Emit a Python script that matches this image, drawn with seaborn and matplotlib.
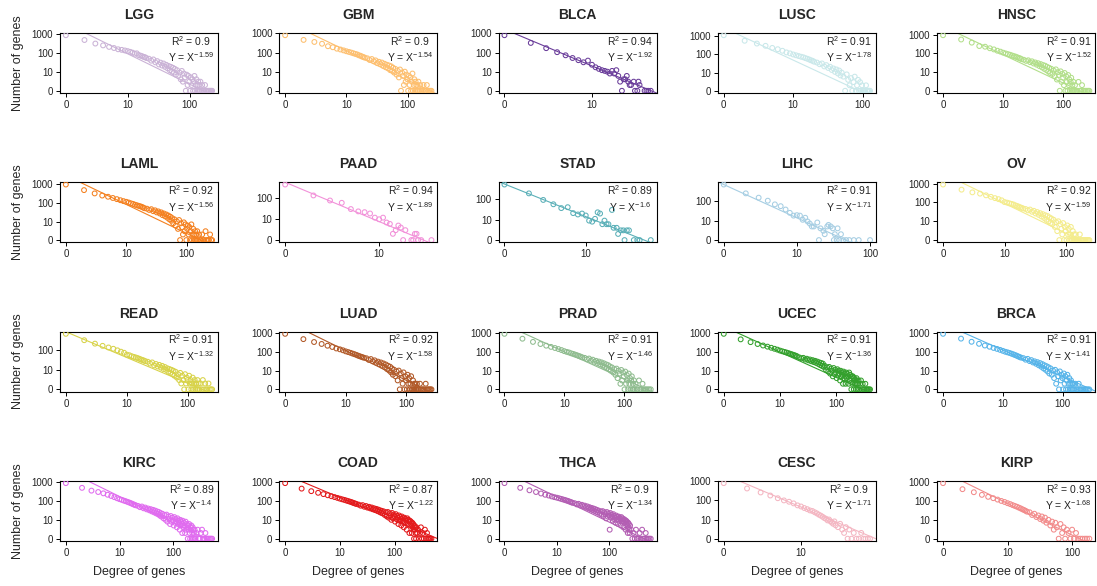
import numpy as np
import matplotlib
matplotlib.use("Agg")
import matplotlib.pyplot as plt
import seaborn as sns
from matplotlib.ticker import FixedLocator, FixedFormatter, NullLocator

# ---------------- data ----------------
names = ["LGG", "GBM", "BLCA", "LUSC", "HNSC",
         "LAML", "PAAD", "STAD", "LIHC", "OV",
         "READ", "LUAD", "PRAD", "UCEC", "BRCA",
         "KIRC", "COAD", "THCA", "CESC", "KIRP"]
colors = ["#CAB2D6", "#FDBF6F", "#6A3D9A", "#C9E8EA", "#B2DF8A",
          "#F4801F", "#F291D9", "#5BB0B8", "#A6CEE3", "#F4EC8C",
          "#D8D34A", "#B15928", "#8FBC8F", "#33A02C", "#56B4E9",
          "#E06BEF", "#E31A1C", "#B35EB3", "#F4B6C2", "#F28B8B"]
r2_values = ["0.9", "0.9", "0.94", "0.91", "0.91",
             "0.92", "0.94", "0.89", "0.91", "0.92",
             "0.91", "0.92", "0.91", "0.91", "0.91",
             "0.89", "0.87", "0.9", "0.9", "0.93"]
exponents = [1.59, 1.54, 1.92, 1.78, 1.52,
             1.56, 1.89, 1.6, 1.71, 1.59,
             1.32, 1.58, 1.46, 1.36, 1.41,
             1.4, 1.22, 1.34, 1.71, 1.68]
log_intercepts = [3.53, 3.64, 3.22, 3.47, 3.45,
                  3.48, 2.78, 2.75, 2.85, 3.54,
                  2.95, 3.64, 3.48, 3.36, 3.5,
                  3.64, 3.4, 3.56, 3.36, 3.55]

# shared runs of integer degrees (typed out)
DEG_1_20 = [1,2,3,4,5,6,7,8,9,10,11,12,13,14,15,16,17,18,19,20]
DEG_22_60 = [22,24,26,28,30,32,34,36,38,40,42,44,46,48,50,52,54,56,58,60]
DEG_63_150 = [63,66,69,72,75,78,81,84,87,90,93,96,99,102,105,108,111,114,117,120,
              123,126,129,132,135,138,141,144,147,150]
DEG_154_250 = [154,158,162,166,170,174,178,182,186,190,194,198,202,206,210,214,218,
               222,226,230,234,238,242,246,250]

LGG_deg = DEG_1_20 + DEG_22_60 + DEG_63_150 + [155,160,166,172,178,185,192,200,208,216,224,232]
LGG_cnt = ([820,460,300,240,200,175,150,140,130,120,110,100,88,92,75,70,66,60,58,52]
           + [48,38,44,31,36,24,30,21,27,18,23,15,20,12,18,10,16,9,14,7]
           + [12,6,9,4,11,3,8,5,1,7,2,6,3,1,5,2,4,1,3,6,1,2,4,1,2,3,1,2,1,3]
           + [1,2,1,1,2,1,1,1,1,1,1,1])

GBM_deg = DEG_1_20 + DEG_22_60 + DEG_63_150 + [155,161,168,175,182,190,198,206,215,225,235,245]
GBM_cnt = ([810,460,360,290,215,190,160,145,130,117,108,100,92,85,80,72,68,62,58,54]
           + [50,41,46,35,39,28,33,25,30,20,26,17,23,15,21,12,19,11,16,9]
           + [14,7,11,5,13,1,9,6,2,10,3,7,4,1,6,2,5,1,3,8,1,2,4,1,3,2,1,2,1,3]
           + [1,2,1,1,2,1,1,2,1,1,1,1])

BLCA_deg = [1,2,3,4,5,6,7,8,9,10,11,12,13,14,15,16,17,18,19,20,21,22,23,24,25,26,27,28,30,31,33,34,35,40,42,44,47]
BLCA_cnt = [810,320,170,105,72,52,40,31,38,23,17,14,12,11,10,8,11,8,12,6,3,1,4,4,6,3,2,2,3,1,1,3,2,1,1,1,1]

LUSC_deg = (DEG_1_20 + [22,24,26,28,30,32,34,36,38,40,42,44,46,48,50]
            + [53,56,59,62,65,68,71,74,77,80,83,86,89,92,95,98,101,104]
            + [108,112,116,120,124,128])
LUSC_cnt = ([1150,570,400,300,230,195,160,130,115,100,90,82,75,70,63,58,53,48,45,40]
            + [36,29,32,22,26,18,21,14,17,11,15,9,13,7,10]
            + [6,1,8,4,2,5,1,3,6,1,2,4,1,3,1,2,1,1]
            + [1,2,1,1,1,1])

HNSC_deg = DEG_1_20 + DEG_22_60 + DEG_63_150 + [156,163,170,178,186,195,204,214,225,236,248,260,270]
HNSC_cnt = ([950,560,380,250,230,190,165,140,125,110,100,92,85,78,72,68,63,58,55,50]
            + [46,40,43,34,38,29,33,25,30,21,27,18,24,15,22,13,19,11,17,9]
            + [15,8,12,6,14,4,10,7,1,11,3,8,5,2,9,1,6,3,1,7,2,4,1,3,5,1,2,1,3,1]
            + [2,1,1,3,1,1,2,1,1,1,1,1,1])

LAML_deg = DEG_1_20 + DEG_22_60 + DEG_63_150 + [155,161,167,174,181,189,197,206,215,225,235,245,255,265]
LAML_cnt = ([980,490,325,250,215,185,160,140,125,115,105,95,88,80,75,70,66,62,57,52]
            + [49,42,46,36,40,31,35,27,31,22,27,19,24,16,21,13,18,11,15,8]
            + [13,6,10,4,12,1,8,5,2,9,3,7,1,4,6,2,5,1,3,7,1,2,4,1,2,3,1,2,1,3]
            + [1,2,1,1,2,1,1,3,1,1,1,2,1,1])

PAAD_deg = [1,2,3,4,5,6,7,8,9,10,11,12,13,14,15,16,17,18,19,22,23,24,25,26,28,36]
PAAD_cnt = [470,140,80,62,31,24,22,19,12,10,12,7,6,2,3,5,4,1,3,1,1,2,2,1,1,1]

STAD_deg = [1,2,3,4,5,6,7,8,9,10,11,12,13,14,15,16,17,18,19,21,22,24,25,27,29,30,32,34,39,43,46,63]
STAD_cnt = [530,195,93,57,37,41,21,18,20,16,9,8,11,23,20,6,9,6,6,30,4,4,2,3,3,1,3,3,1,1,1,1]

LIHC_deg = [1,2,3,4,5,6,7,8,9,10,11,12,13,14,15,16,17,19,20,21,23,24,26,27,29,31,32,33,35,36,38,40,43,47,52,60,70,100]
LIHC_cnt = [710,250,150,105,68,55,37,25,18,19,18,11,14,9,7,5,5,8,1,4,3,2,5,6,5,4,1,2,1,4,1,2,1,1,1,1,1,1]

OV_deg = DEG_1_20 + DEG_22_60 + DEG_63_150 + [155,161,168,175,182,190,198,206,215,224,232,240]
OV_cnt = ([900,480,345,295,240,200,170,150,130,105,98,90,84,78,70,65,60,55,52,48]
          + [45,38,42,32,36,26,31,22,27,18,24,15,21,12,19,10,16,8,14,7]
          + [12,5,9,3,10,1,7,4,2,8,1,5,3,1,6,2,4,1,2,5,1,1,3,1,2,1,1,2,1,1]
          + [1,1,2,1,1,1,1,1,1,1,1,1])

READ_deg = DEG_1_20 + DEG_22_60 + DEG_63_150 + [155,162,169,176,184,192,200,209,218,228,239,250]
READ_cnt = ([700,330,220,170,140,120,100,85,75,60,56,50,46,43,40,37,34,32,30,28]
            + [26,21,24,17,20,15,18,13,16,11,14,10,12,8,11,7,10,6,9,5]
            + [8,4,6,3,7,2,5,3,1,6,2,4,3,1,5,2,3,1,2,4,1,2,3,1,2,2,1,3,1,2]
            + [1,2,1,3,1,2,1,1,2,1,1,1])

LUAD_deg = DEG_1_20 + DEG_22_60 + DEG_63_150 + [155,161,168,175,183,191,200,209,219,229,240,250,260]
LUAD_cnt = ([900,470,330,260,210,180,150,135,120,105,96,88,80,74,68,62,58,54,51,48]
            + [45,37,41,31,35,26,30,22,27,18,24,15,21,12,18,10,16,8,13,6]
            + [11,5,9,3,10,1,7,4,2,8,1,5,3,1,6,2,4,1,2,5,1,1,3,1,2,1,2,1,1,2]
            + [1,1,2,1,1,1,1,2,1,1,1,1,1])

PRAD_deg = DEG_1_20 + DEG_22_60 + DEG_63_150 + [156,163,170,178,186,195,204,214,225,237,250,265,280]
PRAD_cnt = ([950,520,350,270,220,190,165,145,128,112,102,95,86,80,74,69,64,60,56,52]
            + [49,41,45,35,39,30,34,26,31,22,28,19,25,16,22,14,20,12,17,10]
            + [15,8,12,6,13,4,10,7,2,11,3,8,5,1,9,2,6,3,1,7,2,4,1,3,5,1,2,1,3,1]
            + [2,1,1,3,1,1,2,1,1,1,1,1,1])

UCEC_deg = DEG_1_20 + DEG_22_60 + DEG_63_150 + DEG_154_250 + [258,267,276,286,296,307,318,330,342,355,368,384,400]
UCEC_cnt = ([950,480,340,270,225,195,170,150,135,120,110,102,95,88,82,77,72,68,64,60]
            + [52,46,49,40,44,36,40,32,37,29,34,26,31,23,28,20,26,18,24,16]
            + [18,11,15,9,16,7,13,10,5,14,7,11,8,4,12,6,10,7,3,10,5,8,6,2,9,4,7,5,2,8]
            + [4,7,5,2,8,3,6,4,1,5,2,5,4,1,4,2,3,2,1,4,2,3,1,2,3]
            + [1,2,3,1,2,1,1,2,1,1,1,1,1])

BRCA_deg = DEG_1_20 + DEG_22_60 + DEG_63_150 + [156,163,170,178,186,195,204,214,225,237,250,265,280]
BRCA_cnt = ([900,500,340,265,215,185,160,142,126,112,100,93,86,79,73,67,62,57,53,49]
            + [46,38,42,32,36,27,31,23,28,19,25,16,22,13,19,11,17,9,15,7]
            + [13,6,10,4,11,2,8,5,1,9,3,6,4,1,7,2,5,1,3,6,1,2,4,1,2,3,1,2,1,2]
            + [1,2,1,1,2,1,1,1,1,1,1,1,1])

KIRC_deg = (DEG_1_20 + DEG_22_60 + DEG_63_150 + DEG_154_250
            + [260,272,285,298,312,327,343,360,378,397,417,438,460,483,506,530])
KIRC_cnt = ([890,500,355,300,255,215,185,160,140,125,115,105,98,90,84,78,72,67,63,59]
            + [55,47,51,41,45,36,40,32,37,28,34,25,31,22,28,20,26,17,23,15]
            + [21,12,18,10,19,8,15,11,6,16,8,13,9,5,14,7,11,8,4,12,6,9,7,3,10,5,8,6,2,9]
            + [4,7,5,2,8,3,6,4,1,5,3,6,2,1,4,3,5,1,2,4,1,3,2,1,3]
            + [1,2,3,1,1,2,3,1,1,2,1,1,1,1,1,1])

COAD_deg = (DEG_1_20 + DEG_22_60 + DEG_63_150 + DEG_154_250
            + [258,268,279,290,302,315,328,342,357,373,390,408,428,448,470])
COAD_cnt = ([880,450,330,270,230,200,178,160,145,132,122,114,106,99,93,88,82,77,73,69]
            + [64,56,60,49,54,44,49,40,45,36,41,33,38,30,35,27,32,24,30,22]
            + [28,18,25,15,26,13,22,17,10,23,12,19,15,8,20,11,16,13,6,17,9,14,11,5,15,8,12,9,4,13]
            + [7,11,9,3,12,6,10,8,2,9,5,8,6,2,7,4,6,3,1,5,3,4,2,1,4]
            + [2,3,1,2,4,1,2,1,3,1,2,1,1,1,1])

THCA_deg = (DEG_1_20 + DEG_22_60 + DEG_63_150 + DEG_154_250
            + [262,276,291,307,324,342,361,381,402,424,447,471,497,524,552,585,620])
THCA_cnt = ([890,500,370,300,250,215,195,175,160,150,140,130,122,115,108,102,96,90,85,80]
            + [76,66,71,58,63,52,57,46,52,41,47,37,43,33,40,30,37,27,34,25]
            + [31,21,28,19,29,16,25,20,12,26,15,22,17,3,23,13,19,15,9,20,11,16,13,7,17,10,14,11,6,15]
            + [9,13,11,5,14,8,12,9,4,11,7,10,8,3,9,6,8,5,2,7,4,6,3,2,5]
            + [3,1,2,1,3,1,1,2,1,3,1,1,2,1,1,1,1])

CESC_deg = [1,2,3,4,5,6,7,8,9,10,11,12,13,14,15,16,17,18,19,20,21,22,23,24,25,26,27,28,30,32,34,36,38,40,42,45,48,52,56,60,64,68,73,78]
CESC_cnt = [800,420,260,180,130,100,85,70,55,48,40,35,30,28,24,21,18,16,14,12,11,9,10,8,7,6,8,5,4,6,3,2,4,1,3,1,2,1,1,2,1,1,1,1]

KIRP_deg = (DEG_1_20 + [22,24,26,28,30,32,34,36,38,40]
            + [43,46,49,52,55,58,62,66,70,74,78,83,88,94,100,107,115,124,134,145,158,170,185])
KIRP_cnt = ([880,420,290,210,165,140,118,100,88,76,68,60,54,49,44,40,36,33,30,27]
            + [25,18,21,14,17,11,15,9,13,7]
            + [10,5,8,3,7,4,1,6,2,4,1,3,2,1,3,1,2,1,1,1,1,1,1])

x_tick_values = [1, 10, 100, 1000]
x_tick_labels = ["0", "10", "100", "1000"]
y_tick_values = [1, 10, 100, 1000]
y_tick_labels = ["0", "10", "100", "1000"]

degrees = [LGG_deg, GBM_deg, BLCA_deg, LUSC_deg, HNSC_deg,
           LAML_deg, PAAD_deg, STAD_deg, LIHC_deg, OV_deg,
           READ_deg, LUAD_deg, PRAD_deg, UCEC_deg, BRCA_deg,
           KIRC_deg, COAD_deg, THCA_deg, CESC_deg, KIRP_deg]
counts = [LGG_cnt, GBM_cnt, BLCA_cnt, LUSC_cnt, HNSC_cnt,
          LAML_cnt, PAAD_cnt, STAD_cnt, LIHC_cnt, OV_cnt,
          READ_cnt, LUAD_cnt, PRAD_cnt, UCEC_cnt, BRCA_cnt,
          KIRC_cnt, COAD_cnt, THCA_cnt, CESC_cnt, KIRP_cnt]

# ---------------- style ----------------
sns.set_style("ticks")
plt.rcParams['font.family'] = ['Liberation Sans', 'DejaVu Sans']
plt.rcParams['mathtext.default'] = 'regular'

W, H = 1097, 586
fig = plt.figure(figsize=(W / 100, H / 100), dpi=100)

AX_W, AX_H = 158, 60
LEFT0, COL_STEP = 60, 219.3
TOP0, ROW_STEP = 33, 149.3

for i, name in enumerate(names):
    r, c = divmod(i, 5)
    left = LEFT0 + c * COL_STEP
    top = TOP0 + r * ROW_STEP
    ax = fig.add_axes([left / W, 1 - (top + AX_H) / H, AX_W / W, AX_H / H])
    ax.set_xscale('log')
    ax.set_yscale('log')

    deg = np.asarray(degrees[i], dtype=float)
    cnt = np.asarray(counts[i], dtype=float)
    col = colors[i]

    lx, ly = np.log10(deg), np.log10(cnt)
    xr = lx.max() - lx.min()
    yr = ly.max() - ly.min()
    xlim = (10 ** (lx.min() - 0.04 * xr), 10 ** (lx.max() + 0.04 * xr))
    ylim = (10 ** (ly.min() - 0.04 * yr), 10 ** (ly.max() + 0.04 * yr))

    sns.scatterplot(x=deg, y=cnt, ax=ax, marker='o', s=12, color=col,
                    facecolor='none', edgecolor=col, linewidth=0.75, zorder=3)

    # fitted power law line  log10(Y) = b - a*log10(X)
    x_line = np.array([xlim[0], xlim[1]])
    y_line = 10 ** log_intercepts[i] * x_line ** (-exponents[i])
    sns.lineplot(x=x_line, y=y_line, ax=ax, color=col, linewidth=0.8, zorder=2)

    ax.set_xlim(*xlim)
    ax.set_ylim(*ylim)

    ax.xaxis.set_major_locator(FixedLocator(x_tick_values))
    ax.xaxis.set_major_formatter(FixedFormatter(x_tick_labels))
    ax.yaxis.set_major_locator(FixedLocator(y_tick_values))
    ax.yaxis.set_major_formatter(FixedFormatter(y_tick_labels))
    ax.xaxis.set_minor_locator(NullLocator())
    ax.yaxis.set_minor_locator(NullLocator())
    ax.tick_params(axis='both', which='major', length=3, width=0.7,
                   labelsize=7, pad=2, color='black', labelcolor='#222222')

    for sp in ax.spines.values():
        sp.set_visible(True)
        sp.set_color('black')
        sp.set_linewidth(0.8)

    ax.set_xlabel('')
    ax.set_ylabel('')
    ax.set_title(name, fontsize=10, fontweight='bold', pad=10)

    ax.text(0.975, 0.985,
            "R$^2$ = " + r2_values[i] + "\nY = X$^{-" + f"{exponents[i]:g}" + "}$",
            transform=ax.transAxes, ha='right', va='top',
            multialignment='center', fontsize=7.5, linespacing=1.25,
            color='#222222')

    if c == 0:
        fig.text(18 / W, 1 - (top + AX_H / 2) / H, 'Number of genes',
                 rotation=90, ha='center', va='center', fontsize=9)
    if r == 3:
        fig.text((left + AX_W / 2) / W, 1 - 572 / H, 'Degree of genes',
                 ha='center', va='center', fontsize=9)

fig.savefig('out.png', dpi=100)
